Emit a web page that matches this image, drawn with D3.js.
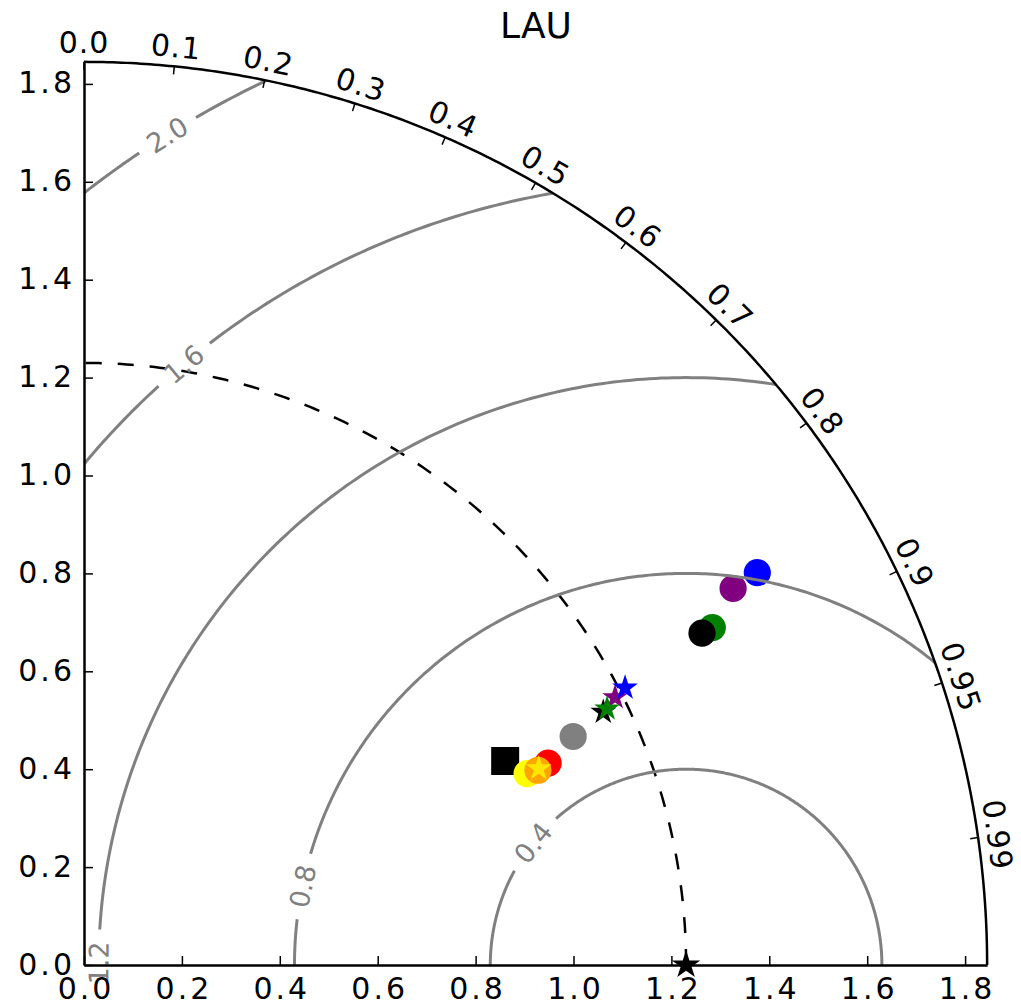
<!DOCTYPE html>
<html>
<head>
<meta charset="utf-8">
<script src="https://cdn.jsdelivr.net/npm/d3@7/dist/d3.min.js"></script>
<style>
  html, body { margin: 0; padding: 0; background: #fff; }
  svg { display: block; font-family: "DejaVu Sans", sans-serif; }
</style>
</head>
<body>
<svg id="chart" width="1021" height="1006"></svg>
<script>
// Taylor diagram: standard deviation (radius) vs. correlation (angle)
const title = "LAU";
const refStd = 1.23;
const stdMax = 1.845;
const stdTicks = [0.0, 0.2, 0.4, 0.6, 0.8, 1.0, 1.2, 1.4, 1.6, 1.8];
const corrTicks = [0.0, 0.1, 0.2, 0.3, 0.4, 0.5, 0.6, 0.7, 0.8, 0.9, 0.95, 0.99];
const corrTickLabels = ["0.0", "0.1", "0.2", "0.3", "0.4", "0.5", "0.6", "0.7", "0.8", "0.9", "0.95", "0.99"];
const rmsLevels = [0.4, 0.8, 1.2, 1.6, 2.0];
const rmsLabels = ["0.4", "0.8", "1.2", "1.6", "2.0"];

// samples (in drawing order)
const sampleStd  = [0.956, 1.034, 0.986, 1.009, 1.012, 1.103, 1.180, 1.215, 1.242, 1.190, 1.457, 1.433, 1.533, 1.592];
const sampleCorr = [0.900, 0.917, 0.918, 0.919, 0.918, 0.906, 0.899, 0.893, 0.890, 0.898, 0.881, 0.881, 0.865, 0.864];

// marker style per sample
const sampleShape = ["square", "circle", "circle", "circle", "star", "circle", "star", "star", "star", "star", "circle", "circle", "circle", "circle"];
const sampleColor = ["black", "red", "yellow", "orange", "#ffe600", "gray", "black", "purple", "blue", "green", "green", "black", "purple", "blue"];

// where each RMS contour label sits (angle around the reference point, degrees)
const rmsLabelAngle = [141.4, 168.4, 179.8, 129.9, 122.0];

const svg = d3.select("#chart");
const CX = 84, CY = 965, PX = 489.5;
const x = d3.scaleLinear().domain([0, stdMax]).range([CX, CX + stdMax * PX]);
const y = d3.scaleLinear().domain([0, stdMax]).range([CY, CY - stdMax * PX]);

const toXY = (s, c) => [x(s * c), y(s * Math.sqrt(Math.max(0, 1 - c * c)))];
const line = d3.line().x(d => x(d[0])).y(d => y(d[1]));

// clip to the quarter disc
const defs = svg.append("defs");
const sectorPts = [[0, 0]];
for (let i = 0; i <= 200; i++) {
  const a = Math.PI / 2 * i / 200;
  sectorPts.push([stdMax * Math.cos(a), stdMax * Math.sin(a)]);
}
defs.append("clipPath").attr("id", "sector")
  .append("path").attr("d", line(sectorPts) + "Z");

// reference std arc (dashed)
const refArc = d3.range(0, 201).map(i => {
  const a = Math.PI / 2 * i / 200;
  return [refStd * Math.cos(a), refStd * Math.sin(a)];
});
svg.append("path").attr("d", line(refArc))
  .attr("fill", "none").attr("stroke", "black")
  .attr("stroke-width", 2.5).attr("stroke-dasharray", "16,16");

// samples
const symbolType = { circle: d3.symbolCircle, square: d3.symbolSquare, star: d3.symbolStar };
const symbolSize = { circle: 580, square: 784, star: 205 };
const gMarks = svg.append("g");
sampleStd.forEach((s, i) => {
  const [px, py] = toXY(s, sampleCorr[i]);
  gMarks.append("path")
    .attr("d", d3.symbol().type(symbolType[sampleShape[i]]).size(symbolSize[sampleShape[i]])())
    .attr("transform", `translate(${px},${py})`)
    .attr("fill", sampleColor[i]);
});

// RMS difference contours, centred on the reference point, with inline labels
const gRms = svg.append("g");
const gRmsLines = gRms.append("g").attr("clip-path", "url(#sector)");
rmsLevels.forEach((lev, i) => {
  const phi = rmsLabelAngle[i] * Math.PI / 180;
  const lx = x(refStd + lev * Math.cos(phi));
  const ly = y(lev * Math.sin(phi));
  const t = gRms.append("text")
    .attr("x", 0).attr("y", 0)
    .attr("text-anchor", "middle").attr("dy", "0.36em")
    .attr("font-size", 27).attr("fill", "#808080")
    .attr("transform", `translate(${lx},${ly}) rotate(${90 - rmsLabelAngle[i]})`)
    .text(rmsLabels[i]);
  const w = t.node().getComputedTextLength();
  const half = (w / 2 + 12) / (lev * PX);
  const segs = [[0, phi - half], [phi + half, Math.PI]];
  segs.forEach(([a0, a1]) => {
    if (a1 <= a0) return;
    const pts = d3.range(0, 301).map(k => {
      const a = a0 + (a1 - a0) * k / 300;
      return [refStd + lev * Math.cos(a), lev * Math.sin(a)];
    });
    gRmsLines.append("path").attr("d", line(pts))
      .attr("fill", "none").attr("stroke", "#808080").attr("stroke-width", 3);
  });
});

// straight axes
const fmt = d3.format(".1f");
const xAxis = svg.append("g").attr("transform", `translate(0,${CY})`)
  .call(d3.axisBottom(x).tickValues(stdTicks).tickFormat(fmt)
    .tickSizeInner(-9).tickSizeOuter(0).tickPadding(13));
const yAxis = svg.append("g").attr("transform", `translate(${CX},0)`)
  .call(d3.axisLeft(y).tickValues(stdTicks).tickFormat(fmt)
    .tickSizeInner(-9).tickSizeOuter(0).tickPadding(12));
[xAxis, yAxis].forEach(g => {
  g.select(".domain").attr("stroke-width", 2.5).attr("stroke", "black");
  g.selectAll(".tick line").attr("stroke-width", 1.5).attr("stroke", "black");
  g.selectAll(".tick text").attr("font-size", 30).attr("fill", "black")
    .attr("font-family", "DejaVu Sans").attr("letter-spacing", 3);
});
xAxis.selectAll(".tick text").attr("dx", 1.5);
yAxis.selectAll(".tick text").attr("dy", "0.30em").attr("dx", 3);

// outer correlation arc
const outer = d3.range(0, 301).map(i => {
  const a = Math.PI / 2 * i / 300;
  return [stdMax * Math.cos(a), stdMax * Math.sin(a)];
});
svg.append("path").attr("d", line(outer))
  .attr("fill", "none").attr("stroke", "black").attr("stroke-width", 2.5);

// correlation ticks and labels
const Rpx = stdMax * PX;
corrTicks.forEach((c, i) => {
  const th = Math.acos(c);
  const cx = Math.cos(th), sy = Math.sin(th);
  svg.append("line")
    .attr("x1", CX + Rpx * cx).attr("y1", CY - Rpx * sy)
    .attr("x2", CX + (Rpx - 8) * cx).attr("y2", CY - (Rpx - 8) * sy)
    .attr("stroke", "black").attr("stroke-width", 1.5);
  const Rl = Rpx + 20;
  svg.append("text")
    .attr("transform", `translate(${CX + Rl * cx},${CY - Rl * sy}) rotate(${90 - th * 180 / Math.PI})`)
    .attr("text-anchor", "middle").attr("dy", "0.36em")
    .attr("font-size", 30).attr("letter-spacing", 1)
    .text(corrTickLabels[i]);
});

// reference point
svg.append("path")
  .attr("d", d3.symbol().type(d3.symbolStar).size(250)())
  .attr("transform", `translate(${x(refStd)},${y(0)})`)
  .attr("fill", "black");

// title
svg.append("text").attr("x", 536).attr("y", 38)
  .attr("text-anchor", "middle").attr("font-size", 36).text(title);
</script>
</body>
</html>
